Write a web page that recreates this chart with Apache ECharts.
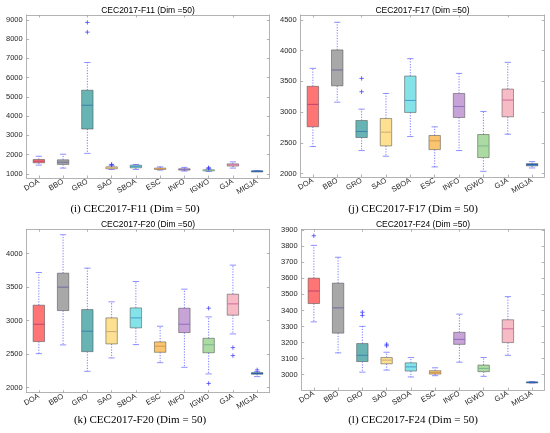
<!DOCTYPE html>
<html>
<head>
<meta charset="utf-8">
<script src="https://cdn.jsdelivr.net/npm/echarts@6/dist/echarts.min.js"></script>
<style>
html,body{margin:0;padding:0;background:#fff;}
#chart{width:550px;height:433px;}
</style>
</head>
<body>
<div id="chart"></div>
<script>
// ---------- data ----------
const categories = ['DOA','BBO','GRO','SAO','SBOA','ESC','INFO','IGWO','GJA','MIGJA'];

// each row: [lower whisker, Q1, median, Q3, upper whisker]
const f11Stats = [
  [1450,1570,1655,1740,1910],
  [1295,1485,1600,1725,2015],
  [2060,3325,4560,5340,6780],
  [1225,1260,1310,1360,1420],
  [1225,1310,1380,1445,1480],
  [1190,1225,1260,1295,1360],
  [1140,1190,1225,1260,1330],
  [1120,1155,1170,1205,1240],
  [1295,1400,1465,1515,1620],
  [1125,1132,1138,1145,1150]
];
const f11Outliers = [[2,8360],[2,8865],[3,1465],[3,1485],[7,1290],[7,1310]];
const f11Ticks = [1000,2000,3000,4000,5000,6000,7000,8000,9000];

const f17Stats = [
  [2440,2762,3126,3420,3712],
  [3162,3428,3686,4012,4462],
  [2375,2587,2685,2864,3049],
  [2283,2451,2674,2897,3304],
  [2603,2995,3190,3587,3870],
  [2109,2391,2533,2620,2761],
  [2375,2913,3092,3304,3630],
  [2038,2261,2451,2636,3011],
  [2641,2924,3196,3375,3810],
  [2092,2125,2147,2163,2196]
];
const f17Outliers = [[2,3332],[2,3549]];
const f17Ticks = [2000,2500,3000,3500,4000,4500];

const f20Stats = [
  [2507,2687,2945,3229,3716],
  [2637,3149,3498,3706,4279],
  [2244,2537,2841,3164,3781],
  [2443,2652,2836,3040,3279],
  [2642,2891,3040,3189,3582],
  [2373,2527,2617,2682,2915],
  [2303,2821,2945,3184,3468],
  [2205,2520,2640,2736,3055],
  [2801,3080,3249,3393,3826],
  [2165,2200,2212,2224,2240]
];
const f20Outliers = [[7,3184],[7,2063],[8,2597],[8,2478],[9,2265]];
const f20Ticks = [2000,2500,3000,3500,4000];

const f24Stats = [
  [3329,3443,3521,3601,3805],
  [3136,3259,3416,3570,3731],
  [3016,3082,3121,3194,3301],
  [3029,3068,3091,3107,3140],
  [2986,3023,3049,3074,3107],
  [2994,3004,3014,3025,3043],
  [3078,3189,3220,3264,3377],
  [2990,3019,3039,3060,3107],
  [3121,3200,3286,3342,3486],
  [2949,2951,2953,2955,2957]
];
const f24Outliers = [[0,3865],[2,3369],[2,3389],[3,3180],[3,3190]];
const f24Ticks = [3000,3100,3200,3300,3400,3500,3600,3700,3800,3900];

const titles = ['CEC2017-F11 (Dim =50)','CEC2017-F17 (Dim =50)','CEC2017-F20 (Dim =50)','CEC2017-F24 (Dim =50)'];
const captions = ['(i) CEC2017-F11 (Dim = 50)','(j) CEC2017-F17 (Dim = 50)','(k) CEC2017-F20 (Dim = 50)','(l) CEC2017-F24 (Dim = 50)'];

// ---------- styles ----------
const FILLS = ['#ff7575','#a8a8a8','#68b4b4','#fde191','#84e3e9','#f9c56f','#c8a3d7','#abdba2','#f7bbc6','#60a0d9'];
const MEDIANS = ['#c4486e','#72729e','#3f86aa','#cfae7c','#4ea2cf','#d89a58','#9272c2','#7fb98f','#d272a2','#2462b2'];
const EDGE = 'rgba(70,70,70,0.5)';
const WHISKER = 'rgba(70,70,255,0.8)';
const CAP = 'rgba(90,90,255,0.75)';
const FRAME = '#a0a0a0';

const panels = [
  {stats:f11Stats, out:f11Outliers, ticks:f11Ticks, min:780,  max:9250, grid:{left:26.7, top:15,    width:242.6, height:163},   title:[148,6],   cap:[135,209.5]},
  {stats:f17Stats, out:f17Outliers, ticks:f17Ticks, min:1945, max:4580, grid:{left:300.7, top:15,   width:243.6, height:162},   title:[422.5,6], cap:[413,209.5]},
  {stats:f20Stats, out:f20Outliers, ticks:f20Ticks, min:1925, max:4360, grid:{left:26.7, top:229.3, width:242.6, height:163.4}, title:[148,220], cap:[140,420]},
  {stats:f24Stats, out:f24Outliers, ticks:f24Ticks, min:2905, max:3905, grid:{left:301.7, top:229.3, width:242.6, height:160.7}, title:[423,220], cap:[413,420]}
];

function renderBox(params, api) {
  const i = api.value(0);
  const pLo = api.coord([i, api.value(1)]);
  const pQ1 = api.coord([i, api.value(2)]);
  const pMd = api.coord([i, api.value(3)]);
  const pQ3 = api.coord([i, api.value(4)]);
  const pHi = api.coord([i, api.value(5)]);
  const band = api.size([1, 0])[0];
  const bw = band * 0.47, cw = bw * 0.55;
  const cx = pMd[0];
  const dot = {stroke: WHISKER, lineWidth: 0.9, lineDash: [1.2, 1.5], fill: null};
  const cap = {stroke: CAP, lineWidth: 0.9, fill: null};
  return {type: 'group', children: [
    {type:'line', shape:{x1:cx, y1:pQ3[1], x2:cx, y2:pHi[1]}, style: dot},
    {type:'line', shape:{x1:cx, y1:pQ1[1], x2:cx, y2:pLo[1]}, style: dot},
    {type:'line', shape:{x1:cx-cw/2, y1:pHi[1], x2:cx+cw/2, y2:pHi[1]}, style: cap},
    {type:'line', shape:{x1:cx-cw/2, y1:pLo[1], x2:cx+cw/2, y2:pLo[1]}, style: cap},
    {type:'rect', shape:{x:cx-bw/2, y:pQ3[1], width:bw, height:Math.max(pQ1[1]-pQ3[1], 1)},
      style:{fill: FILLS[i], stroke: EDGE, lineWidth: 1}},
    {type:'line', shape:{x1:cx-bw/2, y1:pMd[1], x2:cx+bw/2, y2:pMd[1]}, style:{stroke: MEDIANS[i], lineWidth: 1.1}}
  ]};
}

function renderPlus(params, api) {
  const p = api.coord([api.value(0), api.value(1)]);
  const h = 2.2;
  const st = {stroke: 'rgba(60,60,255,0.85)', lineWidth: 0.9, fill: null};
  return {type:'group', children:[
    {type:'line', shape:{x1:p[0]-h, y1:p[1], x2:p[0]+h, y2:p[1]}, style: st},
    {type:'line', shape:{x1:p[0], y1:p[1]-h, x2:p[0], y2:p[1]+h}, style: st}
  ]};
}

const FONT = 'Liberation Sans';
const grid = [], xAxis = [], yAxis = [], series = [], title = [], graphic = [];
panels.forEach((pn, k) => {
  grid.push(Object.assign({containLabel:false, show:false}, pn.grid));
  xAxis.push({
    type:'category', gridIndex:k, data:categories, position:'bottom', boundaryGap:true,
    axisLine:{show:true, onZero:false, lineStyle:{color:FRAME, width:0.8}},
    axisTick:{show:true, inside:true, alignWithLabel:true, length:2.5, lineStyle:{color:FRAME, width:0.8}},
    axisLabel:{rotate:30, fontSize:7.5, color:'#262626', fontFamily:FONT, margin:3, interval:0},
    splitLine:{show:false}
  });
  xAxis.push({
    type:'category', gridIndex:k, data:categories, position:'top', boundaryGap:true,
    axisLine:{show:true, onZero:false, lineStyle:{color:FRAME, width:0.8}},
    axisTick:{show:true, inside:true, alignWithLabel:true, length:2.5, lineStyle:{color:FRAME, width:0.8}},
    axisLabel:{show:false}, splitLine:{show:false}
  });
  yAxis.push({
    type:'value', gridIndex:k, min:pn.min, max:pn.max, position:'left',
    axisLine:{show:true, onZero:false, lineStyle:{color:FRAME, width:0.8}},
    axisTick:{show:true, inside:true, length:2.5, customValues:pn.ticks, lineStyle:{color:FRAME, width:0.8}},
    axisLabel:{fontSize:7.5, color:'#262626', fontFamily:FONT, margin:4, customValues:pn.ticks,
      formatter: v => String(v)},
    splitLine:{show:false}
  });
  yAxis.push({
    type:'value', gridIndex:k, min:pn.min, max:pn.max, position:'right',
    axisLine:{show:true, onZero:false, lineStyle:{color:FRAME, width:0.8}},
    axisTick:{show:true, inside:true, length:2.5, customValues:pn.ticks, lineStyle:{color:FRAME, width:0.8}},
    axisLabel:{show:false}, splitLine:{show:false}
  });
  series.push({
    type:'custom', xAxisIndex:2*k, yAxisIndex:2*k, renderItem:renderBox,
    encode:{x:0, y:[1,2,3,4,5]}, silent:true,
    data: pn.stats.map((s, i) => [i].concat(s))
  });
  series.push({
    type:'custom', xAxisIndex:2*k, yAxisIndex:2*k, renderItem:renderPlus,
    encode:{x:0, y:1}, silent:true, z:3,
    data: pn.out
  });
  title.push({
    text: titles[k], left: pn.title[0], top: pn.title[1], textAlign:'center', padding:0,
    textStyle:{fontSize:8.5, fontWeight:'normal', color:'#000', fontFamily:FONT}
  });
  graphic.push({
    type:'text', x: pn.cap[0], y: pn.cap[1],
    style:{text: captions[k], font:'11px "Liberation Serif"', fill:'#000', textAlign:'center', textVerticalAlign:'middle'}
  });
});

const chart = echarts.init(document.getElementById('chart'), null, {renderer:'canvas'});
chart.setOption({animation:false, backgroundColor:'#fff', title, grid, xAxis, yAxis, series, graphic});
</script>
</body>
</html>
